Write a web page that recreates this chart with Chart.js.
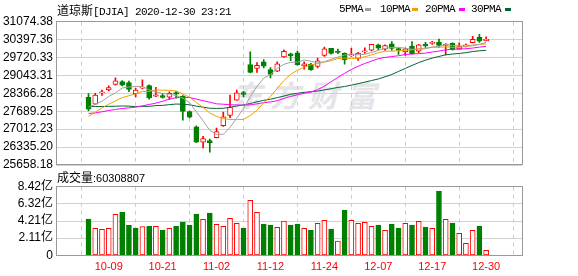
<!DOCTYPE html>
<html>
<head>
<meta charset="utf-8">
<script src="https://cdn.jsdelivr.net/npm/chart.js@4.4.0/dist/chart.umd.min.js"></script>
<style>
  body { margin: 0; background: #fff; }
  #wrap { position: relative; width: 578px; height: 276px; overflow: hidden; font-family: "Liberation Sans", "Noto Sans CJK SC", sans-serif; }
  canvas { position: absolute; left: 0; top: 0; }
  .t { position: absolute; white-space: nowrap; color: #000; }
  .mono { font-family: "Liberation Mono", monospace; font-size: 11px; letter-spacing: -0.6px; }
  .cjk { font-family: "Noto Sans CJK SC", sans-serif; font-size: 12px; }
  .num { font-family: "Liberation Sans", sans-serif; font-size: 11px; }
  .dash { position: absolute; width: 6px; height: 3px; }
  #wm { position: absolute; left: 232px; top: 72px; line-height: 30px; font: italic bold 30px "Noto Sans CJK SC", sans-serif; color: #e4e4e9; letter-spacing: 8px; }
</style>
</head>
<body>
<div id="wrap">
  <div id="wm">东方财富</div>
  <canvas id="kline" width="578" height="276"></canvas>
  <canvas id="vol" width="578" height="276"></canvas>
  <div class="t" style="left:57px;top:2px;line-height:15px"><span class="cjk">道琼斯</span><span class="mono">[DJIA] 2020-12-30 23:21</span></div>
  <div id="legend"></div>
  <div class="t" style="left:57px;top:169px;line-height:16px"><span class="cjk">成交量</span><span class="num">:60308807</span></div>
</div>
<script>
// trading days shown (MM-DD)
const dates = ["10-06","10-07","10-08","10-09","10-12","10-13","10-14","10-15","10-16","10-19",
  "10-20","10-21","10-22","10-23","10-26","10-27","10-28","10-29","10-30","11-02",
  "11-03","11-04","11-05","11-06","11-09","11-10","11-11","11-12","11-13","11-16",
  "11-17","11-18","11-19","11-20","11-23","11-24","11-25","11-27","11-30","12-01",
  "12-02","12-03","12-04","12-07","12-08","12-09","12-10","12-11","12-14","12-15",
  "12-16","12-17","12-18","12-21","12-22","12-23","12-24","12-28","12-29","12-30"];

const opens = [28214,27960,28380,28500,28700,28810,28770,28350,28560,28660,
  28260,28280,28220,28400,28250,27680,27100,26520,26580,26690,
  27140,27530,28110,28400,29450,29310,29560,29260,29200,29740,
  29860,29900,29400,29470,29380,29800,30070,29950,29880,29780,
  29690,29930,30000,30200,30040,30240,30060,29930,30150,29960,
  30230,30250,30300,30180,30260,30050,30160,30280,30490,30360];
const highs = [28354,28370,28488,28650,28950,28850,28830,28560,28880,28690,
  28590,28370,28420,28440,28280,27700,27140,26740,26640,27050,
  27660,28300,28490,28440,29933,29530,29640,29340,29560,30010,
  29890,29960,29560,29500,29700,30116,30070,30040,29900,30070,
  29920,30090,30220,30230,30200,30320,30080,30080,30320,30220,
  30290,30330,30420,30250,30280,30280,30230,30525,30600,30500];
const lows = [27715,27950,28290,28460,28680,28650,28430,28230,28530,28150,
  28240,28180,28140,28180,27350,27440,26500,26300,26143,26680,
  27120,27450,28100,28230,29140,29160,29330,28950,29190,29720,
  29600,29430,29280,29230,29330,29760,29850,29870,29470,29760,
  29610,29880,29970,30020,29990,29990,29840,29800,29850,29900,
  30100,30220,30100,29820,30000,30040,30120,30270,30290,30350];
const closes = [27772.76,28303.46,28425.51,28586.90,28837.52,28679.81,28514.00,28494.20,28606.31,28195.42,
  28308.79,28210.82,28363.66,28335.57,27685.38,27463.19,26519.95,26659.11,26501.60,26925.05,
  27480.03,27847.66,28390.18,28323.40,29157.97,29420.92,29397.63,29080.17,29479.81,29950.44,
  29783.35,29438.42,29483.23,29263.48,29591.27,30046.24,29872.47,29910.37,29638.64,29823.92,
  29883.79,29969.52,30218.26,30069.79,30173.88,30068.81,29999.26,30046.37,29861.55,30199.87,
  30154.54,30303.37,30179.05,30216.45,30015.51,30129.83,30199.87,30403.97,30335.67,30409.56];

// moving averages as plotted
const ma5 = [27841,27945,28067,28248,28385,28567,28609,28623,28626,28498,
  28424,28363,28337,28283,28181,28012,27674,27333,26966,26814,
  26817,27083,27429,27793,28240,28628,28938,29076,29307,29466,
  29538,29546,29627,29583,29512,29564,29651,29736,29812,29858,
  29826,29845,29907,29993,30063,30100,30106,30072,30030,30035,
  30052,30113,30140,30211,30174,30169,30148,30193,30217,30296];
const ma10 = [27499,27653,27814,27956,28081,28204,28277,28345,28437,28442,
  28495,28486,28480,28455,28339,28218,28018,27835,27624,27497,
  27415,27378,27381,27380,27527,27723,28010,28253,28550,28853,
  29083,29242,29351,29445,29489,29551,29599,29682,29698,29685,
  29695,29748,29822,29902,29961,29963,29976,29989,30012,30049,
  30076,30110,30106,30120,30105,30111,30131,30167,30214,30235];
const ma20 = [27608,27626,27670,27716,27759,27793,27817,27846,27894,27946,
  27997,28070,28147,28205,28210,28211,28148,28090,28031,27970,
  27955,27932,27930,27917,27933,27970,28014,28044,28087,28175,
  28249,28310,28366,28412,28508,28637,28805,28967,29124,29269,
  29389,29495,29587,29674,29725,29757,29787,29835,29855,29867,
  29886,29929,29964,30011,30033,30037,30053,30078,30113,30142];
const ma30 = [27866,27868,27871,27874,27880,27889,27884,27864,27874,27876,
  27903,27912,27940,27962,27952,27934,27884,27843,27804,27797,
  27803,27839,27892,27930,27982,28048,28102,28144,28204,28264,
  28331,28369,28404,28427,28452,28497,28542,28590,28624,28678,
  28731,28790,28851,28909,28992,29079,29195,29308,29420,29529,
  29618,29700,29760,29823,29851,29875,29902,29946,29974,29990];

// volume in 亿
const vols = [4.46,3.31,3.19,3.31,5.03,5.31,3.68,3.35,3.51,3.56,
  3.56,3.11,3.31,3.56,4.09,3.72,5.07,4.42,5.19,3.80,
  3.56,4.54,3.93,3.35,6.75,5.28,3.84,3.72,3.44,4.21,
  3.72,3.84,3.31,3.11,3.93,4.30,3.23,1.76,5.56,4.30,
  3.93,4.05,3.56,3.72,3.07,3.84,3.35,3.93,3.72,4.17,
  3.47,3.31,7.89,4.42,3.96,2.70,1.47,3.07,3.60,0.61];

const priceTicks = [25658.18,26335.20,27012.23,27689.25,28366.28,29043.31,29720.33,30397.36,31074.38];
const volTicks = [0,2.11,4.21,6.32,8.42];
const tickIdx = [3,11,19,27,35,43,51,59];
const maNames = ["5PMA","10PMA","20PMA","30PMA"];
const maColors = ["#a0a0a0","#f0a000","#ff00ff","#006633"];

const RED = "#ff0000", GREEN = "#008000";
const candleUp = opens.map((o, i) => closes[i] >= o);
const volUp = closes.map((c, i) => i === 0 ? c >= opens[0] : c >= closes[i - 1]);

// legend (text + short colour bar)
const legX = [339, 380, 425, 471];
const legDash = [365, 412, 459, 505];
const leg = document.getElementById("legend");
maNames.forEach((n, k) => {
  leg.insertAdjacentHTML("beforeend",
    `<div class="t mono" style="left:${legX[k]}px;top:2px;line-height:15px">${n}</div>` +
    `<div class="dash" style="left:${legDash[k]}px;top:8px;background:${maColors[k]}"></div>`);
});

const frame = {
  id: "frame",
  afterDatasetsDraw(chart) {
    const a = chart.chartArea, ctx = chart.ctx;
    ctx.save();
    ctx.strokeStyle = "#999";
    ctx.lineWidth = 1;
    ctx.strokeRect(Math.floor(a.left) + 0.5, Math.floor(a.top) + 0.5, Math.round(a.right - a.left), Math.round(a.bottom - a.top));
    ctx.restore();
  }
};

function xAxis(showLabels) {
  return {
    type: "linear", min: -0.5, max: 60,
    afterBuildTicks: s => { s.ticks = tickIdx.map(v => ({ value: v })); },
    grid: { color: "#cccccc", drawTicks: false },
    border: { display: false, dash: [4, 4] },
    ticks: {
      display: showLabels, autoSkip: false, maxRotation: 0, padding: 5,
      color: RED, font: { family: "Liberation Sans", size: 11 },
      callback: v => dates[v]
    },
    afterFit: s => { s.height = showLabels ? 20 : 0; }
  };
}

function yAxis(ticks, fmt) {
  return {
    min: ticks[0], max: ticks[ticks.length - 1],
    afterBuildTicks: s => { s.ticks = ticks.map(v => ({ value: v })); },
    grid: { color: "#d2d2d2", drawTicks: false },
    border: { display: false },
    ticks: {
      autoSkip: false, padding: 3, color: "#000",
      font: { family: "'Liberation Sans', 'Noto Sans CJK SC'", size: 12 },
      callback: fmt
    },
    afterFit: s => { s.width = 56; }
  };
}

const lineSets = [ma5, ma10, ma20, ma30].map((arr, k) => ({
  type: "line",
  label: maNames[k],
  data: arr.map((v, i) => ({ x: i, y: v })),
  borderColor: maColors[k],
  borderWidth: 1,
  pointRadius: 0,
  tension: 0,
  order: 0
}));

new Chart(document.getElementById("kline"), {
  type: "bar",
  data: {
    datasets: [
      ...lineSets,
      {
        label: "body",
        data: opens.map((o, i) => ({ x: i, y: [o, closes[i]] })),
        backgroundColor: candleUp.map(u => u ? "#ffffff" : GREEN),
        borderColor: candleUp.map(u => u ? RED : GREEN),
        borderWidth: 1,
        borderSkipped: false,
        barThickness: 5,
        grouped: false,
        order: 1
      },
      {
        label: "wick",
        data: lows.map((l, i) => ({ x: i, y: [l, highs[i]] })),
        backgroundColor: candleUp.map(u => u ? RED : GREEN),
        barThickness: 1,
        grouped: false,
        order: 2
      }
    ]
  },
  options: {
    responsive: false,
    animation: false,
    events: [],
    layout: { padding: { top: 21.7, bottom: 111, left: 0, right: 56 } },
    plugins: { legend: { display: false }, tooltip: { enabled: false } },
    scales: {
      x: xAxis(false),
      y: yAxis(priceTicks, v => v.toFixed(2))
    }
  },
  plugins: [frame]
});

new Chart(document.getElementById("vol"), {
  type: "bar",
  data: {
    datasets: [{
      label: "成交量",
      data: vols.map((v, i) => ({ x: i, y: v })),
      backgroundColor: volUp.map(u => u ? "#ffffff" : GREEN),
      borderColor: volUp.map(u => u ? RED : GREEN),
      borderWidth: 1,
      borderSkipped: false,
      barThickness: 5
    }]
  },
  options: {
    responsive: false,
    animation: false,
    events: [],
    layout: { padding: { top: 186.7, bottom: 0.7, left: 0, right: 56 } },
    plugins: { legend: { display: false }, tooltip: { enabled: false } },
    scales: {
      x: xAxis(true),
      y: yAxis(volTicks, v => v === 0 ? "0" : v.toFixed(2) + "亿")
    }
  },
  plugins: [frame]
});
</script>
</body>
</html>
